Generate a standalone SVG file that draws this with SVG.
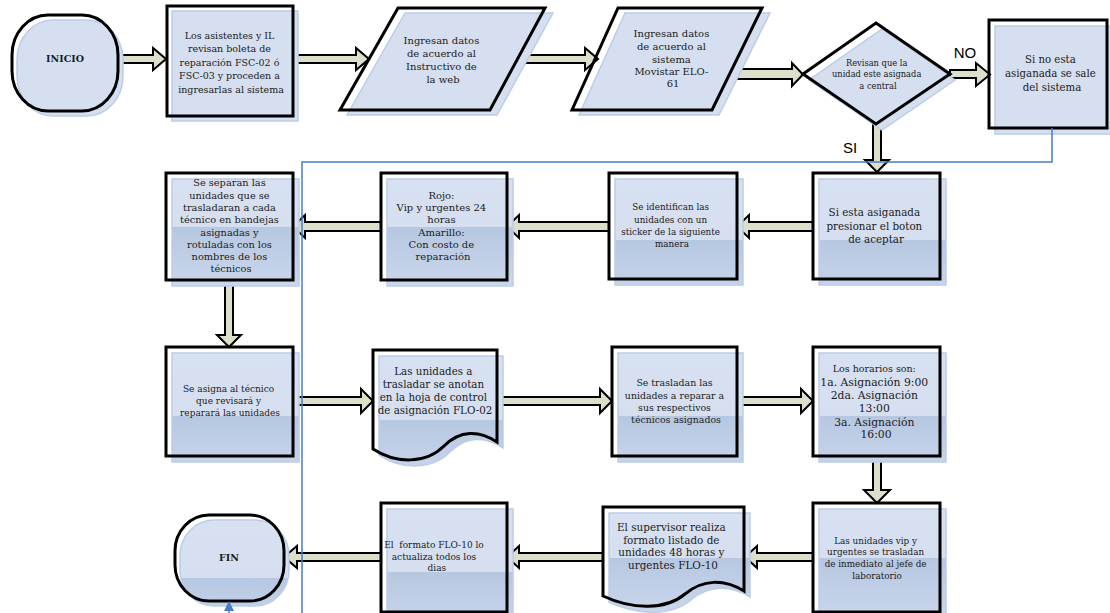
<svg xmlns="http://www.w3.org/2000/svg" width="1110" height="613" viewBox="0 0 1110 613">
  <defs>
    <style>
      .sh { fill: #D5DFF0; stroke: #BCCDE8; stroke-width: 1.5; }
      .sh50 { fill: url(#g50); stroke: #BCCDE8; stroke-width: 1.5; }
      .sh60 { fill: url(#g60); stroke: #BCCDE8; stroke-width: 1.5; }
      .sh70 { fill: url(#g70); stroke: #BCCDE8; stroke-width: 1.5; }
      .ol { fill: none; stroke: #000; stroke-width: 3; stroke-linejoin: miter; }
      .arr { fill: #DCDFC9; stroke: #000; stroke-width: 2; stroke-linejoin: miter; }
      .t { font-family: "DejaVu Serif", "Liberation Serif", serif; fill: #1b1b1b; text-anchor: middle; }
      .b { font-weight: bold; }
      .lbl { font-family: "Liberation Sans", Arial, sans-serif; font-size: 15px; fill: #000; text-anchor: middle; }
      .link { fill: none; stroke: #4A7CC7; stroke-width: 1.5; }
    </style>
    <linearGradient id="g50" x1="0" y1="0" x2="0" y2="1">
      <stop offset="0" stop-color="#D8E1F1"/>
      <stop offset="0.45" stop-color="#D5DFF0"/>
      <stop offset="0.45" stop-color="#B6C7E1"/>
      <stop offset="1" stop-color="#CAD7EC"/>
    </linearGradient>
    <linearGradient id="g60" x1="0" y1="0" x2="0" y2="1">
      <stop offset="0" stop-color="#D8E1F1"/>
      <stop offset="0.58" stop-color="#D5DFF0"/>
      <stop offset="0.58" stop-color="#B6C7E1"/>
      <stop offset="1" stop-color="#C6D4EA"/>
    </linearGradient>
    <linearGradient id="g70" x1="0" y1="0" x2="0" y2="1">
      <stop offset="0" stop-color="#D8E1F1"/>
      <stop offset="0.68" stop-color="#D5DFF0"/>
      <stop offset="0.68" stop-color="#B6C7E1"/>
      <stop offset="1" stop-color="#C2D1E9"/>
    </linearGradient>
  </defs>

  <rect width="1110" height="613" fill="#FFFFFF"/>

  <!-- block arrows -->
  <g id="connectors">
    <path class="arr" d="M117,55 H153 V48 L166,59 L153,70 V63 H117 Z"/>
    <path class="arr" d="M294,55 H356 V48 L369,59 L356,70 V63 H294 Z"/>
    <path class="arr" d="M517,55 H585 V48 L598,59 L585,70 V63 H517 Z"/>
    <path class="arr" d="M730,69 H792 V63 L803,74.5 L792,86 V79 H730 Z"/>
    <path class="arr" d="M950,70 H976 V63 L990,74.5 L976,86 V78 H950 Z"/>
    <path class="arr" d="M873,123 V160 H865 L877,172 L889,160 H881 V123 Z"/>
    <path class="arr" d="M813,222 H749 V215 L737,226.5 L749,238 V231 H813 Z"/>
    <path class="arr" d="M609,222 H519 V215 L507,226.5 L519,238 V231 H609 Z"/>
    <path class="arr" d="M381,222 H305 V215 L293,226.5 L305,238 V231 H381 Z"/>
    <path class="arr" d="M225,280 V335 H217 L229,347 L241,335 H233 V280 Z"/>
    <path class="arr" d="M293,397 H361 V389 L373,401 L361,413 V405 H293 Z"/>
    <path class="arr" d="M497,397 H600 V389 L612,401 L600,413 V405 H497 Z"/>
    <path class="arr" d="M737,397 H801 V389 L813,401 L801,413 V405 H737 Z"/>
    <path class="arr" d="M873,456 V490 H864 L877,503 L890,490 H881 V456 Z"/>
    <path class="arr" d="M813,553 H757 V546 L745,557 L757,568 V561 H813 Z"/>
    <path class="arr" d="M603,553 H519 V546 L507,557 L519,568 V561 H603 Z"/>
    <path class="arr" d="M381,553 H297 V546 L284,557 L297,568 V561 H381 Z"/>
  </g>

  <!-- start terminal -->
  <g id="inicio">
    <rect class="sh" x="17" y="20" width="106" height="96" rx="36" ry="40"/>
    <rect class="ol" x="12" y="15" width="106" height="96" rx="36" ry="40"/>
    <text class="t b" x="65" y="62" font-size="9.5">INICIO</text>
  </g>

  <g id="revisan-boleta">
    <rect class="sh" x="172" y="11" width="126" height="110"/>
    <rect class="ol" x="167" y="6" width="126" height="110"/>
    <text class="t" font-size="9.5" x="231">
      <tspan x="231" y="39">Los asistentes y IL</tspan>
      <tspan x="231" y="52">revisan boleta de</tspan>
      <tspan x="231" y="66">reparación FSC-02 ó</tspan>
      <tspan x="231" y="79">FSC-03 y proceden a</tspan>
      <tspan x="231" y="93">ingresarlas al sistema</tspan>
    </text>
  </g>

  <g id="ingresan-web">
    <polygon class="sh" points="405,13 553,13 497,115 347,115"/>
    <polygon class="ol" points="398,8 545,8 490,110 340,110"/>
    <text class="t" font-size="10">
      <tspan x="443" y="44">Ingresan datos</tspan>
      <tspan x="443" y="57">de acuerdo al</tspan>
      <tspan x="443" y="70">Instructivo de</tspan>
      <tspan x="443" y="83">la web</tspan>
    </text>
  </g>

  <g id="ingresan-movistar">
    <polygon class="sh" points="625,13 770,13 719,115 579,115"/>
    <polygon class="ol" points="618,8 762,8 712,110 572,110"/>
    <text class="t" font-size="10">
      <tspan x="673" y="37">Ingresan datos</tspan>
      <tspan x="673" y="50">de acuerdo al</tspan>
      <tspan x="673" y="63">sistema</tspan>
      <tspan x="673" y="75">Movistar ELO-</tspan>
      <tspan x="673" y="87">61</tspan>
    </text>
  </g>

  <g id="decision-central">
    <polygon class="sh" points="882,29 955,80 882,130 809,80"/>
    <polygon class="ol" points="876,23 950,74 876,124 803,74"/>
    <text class="t" font-size="8.3">
      <tspan x="878" y="66">Revisan que la</tspan>
      <tspan x="878" y="77">unidad este asignada</tspan>
      <tspan x="878" y="89">a central</tspan>
    </text>
    <text class="lbl" x="965" y="58">NO</text>
    <text class="lbl" x="850" y="153">SI</text>
  </g>

  <g id="sale-sistema">
    <rect class="sh" x="995" y="26" width="118" height="108"/>
    <rect class="ol" x="989" y="20" width="118" height="108"/>
    <text class="t" font-size="10.2">
      <tspan x="1052" y="63">Si no esta</tspan>
      <tspan x="1052" y="77">asiganada se sale</tspan>
      <tspan x="1052" y="91">del sistema</tspan>
    </text>
  </g>

  <g id="presionar-aceptar">
    <rect class="sh60" x="819" y="179" width="127" height="106"/>
    <rect class="ol" x="813" y="173" width="127" height="106"/>
    <text class="t" font-size="10.3">
      <tspan x="876" y="216">Si esta asiganada</tspan>
      <tspan x="876" y="230">presionar el boton</tspan>
      <tspan x="876" y="243">de aceptar</tspan>
    </text>
  </g>

  <g id="identifican-sticker">
    <rect class="sh60" x="615" y="179" width="128" height="106"/>
    <rect class="ol" x="609" y="173" width="128" height="106"/>
    <text class="t" font-size="8.8">
      <tspan x="672" y="210">Se identifican las</tspan>
      <tspan x="672" y="223">unidades con un</tspan>
      <tspan x="672" y="235">sticker de la siguiente</tspan>
      <tspan x="672" y="247">manera</tspan>
    </text>
  </g>

  <g id="colores-sticker">
    <rect class="sh50" x="387" y="179" width="126" height="107"/>
    <rect class="ol" x="381" y="173" width="126" height="107"/>
    <text class="t" font-size="10">
      <tspan x="443" y="199">Rojo:</tspan>
      <tspan x="443" y="211">Vip y urgentes 24</tspan>
      <tspan x="443" y="223">horas</tspan>
      <tspan x="443" y="236">Amarillo:</tspan>
      <tspan x="443" y="248">Con costo de</tspan>
      <tspan x="443" y="260">reparación</tspan>
    </text>
  </g>

  <g id="separan-unidades">
    <rect class="sh50" x="172" y="179" width="127" height="107"/>
    <rect class="ol" x="166" y="173" width="127" height="107"/>
    <text class="t" font-size="9.8">
      <tspan x="231" y="186">Se separan las</tspan>
      <tspan x="231" y="199">unidades que se</tspan>
      <tspan x="231" y="211">trasladaran a cada</tspan>
      <tspan x="231" y="223">técnico en bandejas</tspan>
      <tspan x="231" y="236">asignadas y</tspan>
      <tspan x="231" y="248">rotuladas con los</tspan>
      <tspan x="231" y="260">nombres de los</tspan>
      <tspan x="231" y="272">técnicos</tspan>
    </text>
  </g>

  <g id="asigna-tecnico">
    <rect class="sh60" x="172" y="353" width="127" height="109"/>
    <rect class="ol" x="166" y="347" width="127" height="109"/>
    <text class="t" font-size="9">
      <tspan x="230" y="392">Se asigna al técnico</tspan>
      <tspan x="230" y="404">que revisará y</tspan>
      <tspan x="230" y="416">reparará las unidades</tspan>
    </text>
  </g>

  <g id="hoja-control">
    <path class="sh60" d="M379,356 H503 V448 C485,436 466,436 450,452 C432,470 402,470 379,455 Z"/>
    <path class="ol" d="M373,350 H497 V442 C479,430 460,430 444,446 C426,464 396,464 373,449 Z"/>
    <text class="t" font-size="10.3">
      <tspan x="435" y="375">Las unidades a</tspan>
      <tspan x="435" y="388">trasladar se anotan</tspan>
      <tspan x="435" y="401">en la hoja de control</tspan>
      <tspan x="435" y="414">de asignación FLO-02</tspan>
    </text>
  </g>

  <g id="trasladan-tecnicos">
    <rect class="sh60" x="618" y="353" width="125" height="109"/>
    <rect class="ol" x="612" y="347" width="125" height="109"/>
    <text class="t" font-size="9.4">
      <tspan x="676" y="386">Se trasladan las</tspan>
      <tspan x="676" y="399">unidades a reparar a</tspan>
      <tspan x="676" y="411">sus respectivos</tspan>
      <tspan x="676" y="423">técnicos asignados</tspan>
    </text>
  </g>

  <g id="horarios">
    <rect class="sh60" x="819" y="353" width="127" height="109"/>
    <rect class="ol" x="813" y="347" width="127" height="109"/>
    <text class="t" font-size="10.8">
      <tspan x="876" y="372" font-size="9.5">Los horarios son:</tspan>
      <tspan x="876" y="386">1a. Asignación 9:00</tspan>
      <tspan x="876" y="399">2da. Asignación</tspan>
      <tspan x="876" y="412">13:00</tspan>
      <tspan x="876" y="426">3a. Asignación</tspan>
      <tspan x="876" y="438">16:00</tspan>
    </text>
  </g>

  <g id="vip-urgentes">
    <rect class="sh50" x="819" y="509" width="127" height="109"/>
    <rect class="ol" x="813" y="503" width="127" height="109"/>
    <text class="t" font-size="8.8">
      <tspan x="877" y="544">Las unidades vip y</tspan>
      <tspan x="877" y="555">urgentes se trasladan</tspan>
      <tspan x="877" y="567">de inmediato al jefe de</tspan>
      <tspan x="877" y="579">laboratorio</tspan>
    </text>
  </g>

  <g id="listado-supervisor">
    <path class="sh50" d="M609,513 H750 V597 C730,585 709,585 691,600 C672,616 639,616 609,602 Z"/>
    <path class="ol" d="M603,507 H744 V591 C724,579 703,579 685,594 C666,610 633,610 603,596 Z"/>
    <text class="t" font-size="10.4">
      <tspan x="673" y="531">El supervisor realiza</tspan>
      <tspan x="673" y="544">formato listado de</tspan>
      <tspan x="673" y="556">unidades 48 horas y</tspan>
      <tspan x="673" y="569">urgentes FLO-10</tspan>
    </text>
  </g>

  <g id="actualiza-formato">
    <rect class="sh60" x="387" y="509" width="126" height="109"/>
    <rect class="ol" x="381" y="503" width="126" height="109"/>
    <text class="t" font-size="9" xml:space="preserve">
      <tspan x="444" y="548">El  formato FLO-10 lo</tspan>
      <tspan x="444" y="560">actualiza todos los</tspan>
      <tspan x="444" y="571">dias</tspan>
    </text>
  </g>

  <!-- end terminal -->
  <g id="fin">
    <rect class="sh70" x="180" y="520" width="109" height="86" rx="34" ry="36"/>
    <rect class="ol" x="175" y="515" width="109" height="86" rx="34" ry="36"/>
    <text class="t b" x="229" y="561" font-size="9.5">FIN</text>
  </g>

  <!-- return line from the exit box -->
  <g id="return-link">
    <path class="link" d="M1052,128 V162 H302 V613"/>
    <path class="link" d="M229,613 V609"/>
    <polygon points="229,601 224,611 234,611" fill="#4A7CC7"/>
  </g>
</svg>
